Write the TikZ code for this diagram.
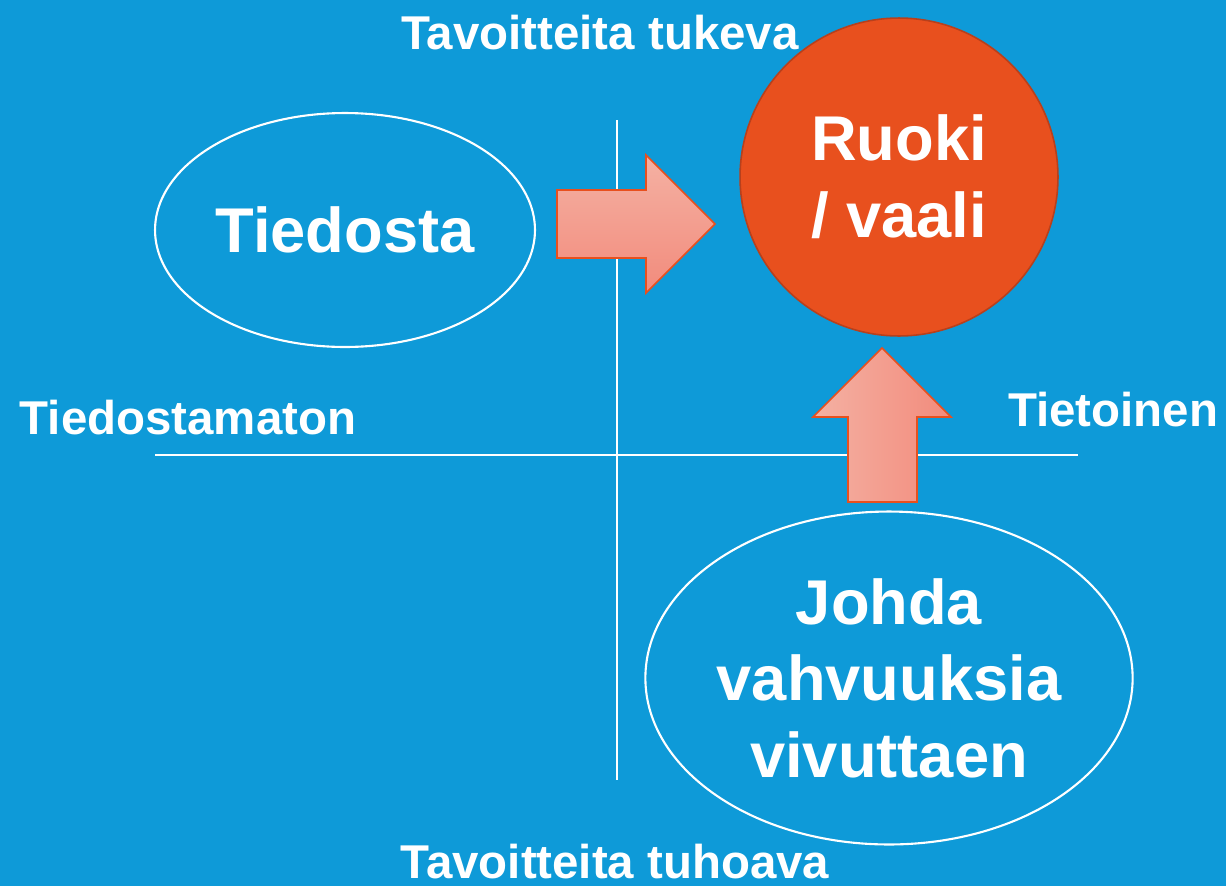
\documentclass[tikz,border=0pt]{standalone}
\usepackage{fontspec}
\setmainfont{Liberation Sans}
\usetikzlibrary{shapes.geometric,positioning}

\definecolor{bgblue}{HTML}{0E9AD8}
\definecolor{ruoki}{HTML}{E8501E}
\definecolor{ruokiedge}{HTML}{B8401C}
\definecolor{arrowlight}{HTML}{F4B1A3}
\definecolor{arrowdark}{HTML}{F28B7C}

\begin{document}
\begin{tikzpicture}[x=0.02cm,y=-0.02cm]
	\tikzstyle{every node}=[text=white,font=\bfseries]
	\tikzstyle{axis}=[white,line width=0.8pt]
	\tikzstyle{axislabel}=[font=\bfseries\fontsize{27}{32}\selectfont]
	\tikzstyle{bigtext}=[font=\bfseries\fontsize{36}{43.6}\selectfont,align=center]
	\tikzstyle{oval}=[ellipse,draw=white,line width=1.2pt,inner sep=0pt]
	\tikzstyle{blockarrow}=[draw=ruoki,line width=0.9pt]

	\fill[bgblue] (0,0) rectangle (1226,886);
	\useasboundingbox (0,0) rectangle (1226,886);

	% axes
	\coordinate (top) at (617,120);
	\coordinate (bottom) at (617,780);
	\coordinate (left) at (155,455);
	\coordinate (right) at (1078,455);
	\draw[axis] (top) -- (bottom);
	\draw[axis] (left) -- (right);

	% axis labels
	\node[axislabel] (tukeva) at (600,33) {Tavoitteita tukeva};
	\node[axislabel] (tuhoava) at (615,862) {Tavoitteita tuhoava};
	\node[axislabel] (tiedostamaton) at (188,418) {Tiedostamaton};
	\node[axislabel] (tietoinen) at (1113,410) {Tietoinen};

	% ovals and circle
	\node[oval,bigtext,minimum width=7.6cm,minimum height=4.68cm] (tiedosta) at (345,230) {Tiedosta};
	\node[circle,fill=ruoki,draw=ruokiedge,line width=0.9pt,bigtext,minimum size=6.36cm,inner sep=0pt] (ruoki) at (899,177) {Ruoki\\/ vaali};
	\node[oval,bigtext,minimum width=9.72cm,minimum height=6.66cm] (johda) at (889,678) {Johda\\vahvuuksia\\vivuttaen};

	% block arrows
	\draw[blockarrow,top color=arrowlight,bottom color=arrowdark]
		(557,190) -- (646,190) -- (646,155) -- (715,224) -- (646,293) -- (646,258) -- (557,258) -- cycle;
	\draw[blockarrow,left color=arrowlight,right color=arrowdark]
		(848,502) -- (848,417) -- (813,417) -- (882,348) -- (951,417) -- (917,417) -- (917,502) -- cycle;
\end{tikzpicture}
\end{document}
